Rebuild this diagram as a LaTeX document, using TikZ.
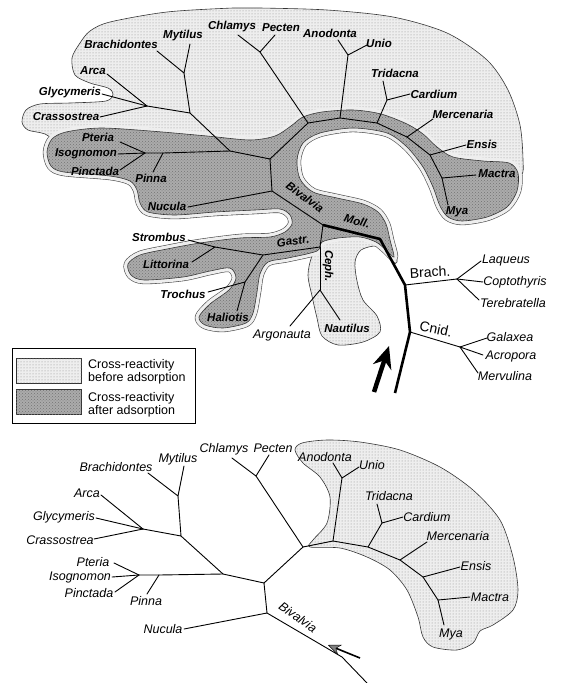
\documentclass[tikz,border=0pt]{standalone}
\usepackage{fontspec}
\setmainfont{Liberation Sans}
\usetikzlibrary{arrows.meta,patterns}
\definecolor{lightreg}{HTML}{EEEEEE}
\definecolor{darkreg}{HTML}{ABABAB}

% outlines of the shaded regions (pixel grid, y downwards)
\newcommand{\beforepath}{plot[smooth cycle, tension=0.5] coordinates {
  (80,43) (90,31) (110,22) (167,12) (233,8) (260,8) (327,10) (393,17) (447,33) (487,60)
  (508,90) (520,125) (523,160) (521,175) (500,172) (470,172) (440,160) (410,136) (380,122)
  (340,120) (295,133) (265,150) (150,151) (70,146) (45,134) (28,130) (22,122) (26,110)
  (40,104) (70,103) (106,101) (113,94) (108,88) (90,83) (75,75) (72,58)}}
\newcommand{\afterpath}{plot[smooth cycle, tension=0.5] coordinates {
  (47,152) (52,139) (66,132) (100,128) (150,131) (207,136) (250,140) (275,136) (291,126)
  (303,117) (322,112) (353,110) (381,114) (407,124) (423,134) (437,147) (453,157) (483,161)
  (509,163) (518,173) (517,191) (507,207) (487,217) (462,221) (448,217) (440,206) (433,187)
  (423,167) (407,147) (387,133) (353,128) (320,133) (303,143) (297,160) (300,179) (313,192)
  (337,198) (363,204) (378,212) (386,224) (390,240) (394,257) (386,250) (376,242) (360,237)
  (338,238) (322,242) (317,251) (288,258) (268,262) (260,274) (257,292) (253,313) (246,323)
  (223,328) (205,325) (199,317) (210,304) (229,290) (236,278) (230,268) (210,271) (183,277)
  (144,280) (131,275) (128,264) (140,255) (167,249) (200,243) (240,238) (270,237) (285,232)
  (292,224) (290,215) (280,209) (255,210) (215,212) (175,215) (148,212) (140,203) (137,190)
  (130,181) (110,176) (64,172) (51,166)}}
\newcommand{\cephpath}{plot[smooth cycle, tension=0.5] coordinates {
  (322,240) (312,256) (308,275) (312,296) (317,318) (322,336) (338,345) (363,342) (380,332)
  (377,316) (363,300) (357,281) (355,262) (361,250) (376,246) (387,252) (393,262) (397,262)
  (394,245) (375,236) (340,232)}}
\newcommand{\bottompath}{plot[smooth cycle, tension=0.5] coordinates {
  (302,443) (327,440) (360,442) (400,450) (440,467) (473,490) (500,520) (513,557) (518,590)
  (513,610) (493,625) (480,631) (473,643) (457,650) (433,647) (423,637) (418,617) (407,590)
  (390,570) (367,557) (340,548) (310,547) (313,540) (327,523) (330,497) (320,477) (303,463)
  (295,450)}}

\begin{document}
\begin{tikzpicture}[
  x=1pt, y=-1pt,
  branch/.style={line width=0.9pt, line cap=round, line join=round},
  trunk/.style={line width=2.6pt, line join=round},
  taxon/.style={font=\fontsize{11.5}{12}\selectfont\bfseries\itshape, inner sep=0pt},
  taxonlt/.style={font=\fontsize{12.5}{13}\selectfont\itshape, inner sep=0pt},
  phylum/.style={font=\fontsize{14}{15}\selectfont, inner sep=0pt},
  legtext/.style={font=\fontsize{12.5}{13}\selectfont, align=left, inner sep=0pt, anchor=west},
  beforeads/.style={fill=lightreg, postaction={pattern=dots, pattern color=black!45}},
  afterads/.style={fill=darkreg, postaction={pattern=crosshatch dots, pattern color=black!55}},
  edge/.style={draw=black!80, line width=0.6pt},
  halo/.style={line width=8.4pt, draw=black!70, line join=round},
  halofill/.style={line width=7.2pt, draw=lightreg, line join=round},
  >=Stealth
]
\useasboundingbox (0,0) rectangle (560,683);

% shaded regions
\draw[halo] \afterpath;
\draw[beforeads, edge] \beforepath;
\draw[beforeads, edge] \cephpath;
\draw[halofill] \afterpath;
\draw[afterads, edge] \afterpath;
\draw[beforeads, edge] \bottompath;

% upper tree: inner nodes
\coordinate (tBM) at (184,73);
\coordinate (tAGC) at (147,106);
\coordinate (tM1) at (190,113);
\coordinate (tPIP) at (145,153);
\coordinate (tPinJ) at (163,153);
\coordinate (tM2) at (230,151);
\coordinate (tRoot) at (270,159);
\coordinate (tCP) at (260,52);
\coordinate (tA0) at (308,123);
\coordinate (tAUj) at (340,118);
\coordinate (tAU) at (348,55);
\coordinate (tTCj) at (377,123);
\coordinate (tTC) at (387,100);
\coordinate (tMej) at (407,137);
\coordinate (tEnj) at (430,155);
\coordinate (tMaj) at (442,178);
\coordinate (tBiv) at (272,191);
\coordinate (tMoll) at (323,225);
\coordinate (tGC) at (320,247);
\coordinate (tGaJ) at (263,255);
\coordinate (tSL) at (215,247);
\coordinate (tTH) at (245,282);
\coordinate (tCeph) at (320,290);
\coordinate (kMo) at (380,239);
\coordinate (kBr) at (405,285);
\coordinate (kCn) at (410,332);
\coordinate (kEnd) at (395,393);
\coordinate (tBr) at (457,279);
\coordinate (tCn) at (460,347);

% upper tree: tips
\coordinate (pBrachT) at (157,51);
\coordinate (pMytT) at (190,44);
\coordinate (pChlT) at (238,35);
\coordinate (pPecT) at (275,35);
\coordinate (pAnoT) at (338,40);
\coordinate (pUnioT) at (367,45);
\coordinate (pTriT) at (383,81);
\coordinate (pCarT) at (410,94);
\coordinate (pMerT) at (433,119);
\coordinate (pEnsT) at (466,145);
\coordinate (pMacT) at (476,175);
\coordinate (pMyaT) at (448,205);
\coordinate (pArcaT) at (107,74);
\coordinate (pGlyT) at (102,94);
\coordinate (pCraT) at (100,117);
\coordinate (pPteT) at (120,142);
\coordinate (pIsoT) at (118,154);
\coordinate (pPinctT) at (120,170);
\coordinate (pPinnaT) at (153,172);
\coordinate (pNucT) at (188,207);
\coordinate (pStrT) at (188,240);
\coordinate (pLitT) at (192,262);
\coordinate (pTroT) at (208,292);
\coordinate (pHalT) at (237,311);
\coordinate (pArgT) at (290,326);
\coordinate (pNauT) at (340,320);
\coordinate (pLaqT) at (481,261);
\coordinate (pCopT) at (483,282);
\coordinate (pTerT) at (479,300);
\coordinate (pGalT) at (487,338);
\coordinate (pAcrT) at (483,355);
\coordinate (pMervT) at (478,373);

\draw[branch] (pBrachT) -- (tBM) -- (pMytT);
\draw[branch] (tBM) -- (tM1) -- (tAGC);
\draw[branch] (pArcaT) -- (tAGC);
\draw[branch] (pGlyT) -- (tAGC);
\draw[branch] (pCraT) -- (tAGC);
\draw[branch] (tM1) -- (tM2);
\draw[branch] (pPteT) -- (tPIP);
\draw[branch] (pIsoT) -- (tPIP);
\draw[branch] (pPinctT) -- (tPIP);
\draw[branch] (tPIP) -- (tPinJ) -- (tM2) -- (tRoot);
\draw[branch] (tPinJ) -- (pPinnaT);
\draw[branch] (pChlT) -- (tCP) -- (pPecT);
\draw[branch] (tCP) -- (tA0);
\draw[branch] (tRoot) -- (tA0) -- (tAUj) -- (tTCj) -- (tMej) -- (tEnj) -- (tMaj) -- (pMyaT);
\draw[branch] (tAUj) -- (tAU);
\draw[branch] (pAnoT) -- (tAU) -- (pUnioT);
\draw[branch] (tTCj) -- (tTC);
\draw[branch] (pTriT) -- (tTC) -- (pCarT);
\draw[branch] (tMej) -- (pMerT);
\draw[branch] (tEnj) -- (pEnsT);
\draw[branch] (tMaj) -- (pMacT);
\draw[branch] (tRoot) -- (tBiv) -- (tMoll);
\draw[branch] (tBiv) -- (pNucT);
\draw[branch] (tMoll) -- (tGC) -- (tGaJ) -- (tSL);
\draw[branch] (pStrT) -- (tSL) -- (pLitT);
\draw[branch] (tGaJ) -- (tTH);
\draw[branch] (pTroT) -- (tTH) -- (pHalT);
\draw[branch] (tGC) -- (tCeph);
\draw[branch] (pArgT) -- (tCeph) -- (pNauT);
\draw[trunk] (tMoll) -- (kMo) -- (kBr) -- (kCn) -- (kEnd);
\draw[branch] (kBr) -- (tBr);
\draw[branch] (pLaqT) -- (tBr);
\draw[branch] (pCopT) -- (tBr);
\draw[branch] (pTerT) -- (tBr);
\draw[branch] (kCn) -- (tCn);
\draw[branch] (pGalT) -- (tCn);
\draw[branch] (pAcrT) -- (tCn);
\draw[branch] (pMervT) -- (tCn);

% big arrow
\coordinate (arTailT) at (374,392);
\coordinate (arHeadT) at (389,346);
\draw[line width=4.5pt, -{Stealth[length=22pt, width=19pt, inset=7pt]}] (arTailT) -- (arHeadT);

% upper tree: labels
\node[taxon] (nBrachT) at (121,44) {Brachidontes};
\node[taxon] (nMytT) at (183,36) {Mytilus};
\node[taxon] (nChlT) at (232,27) {Chlamys};
\node[taxon] (nPecT) at (281,28) {Pecten};
\node[taxon] (nAnoT) at (330,33) {Anodonta};
\node[taxon] (nUnioT) at (379,43) {Unio};
\node[taxon] (nTriT) at (395,73) {Tridacna};
\node[taxon] (nCarT) at (434,94) {Cardium};
\node[taxon] (nMerT) at (463,114) {Mercenaria};
\node[taxon] (nEnsT) at (482,144) {Ensis};
\node[taxon] (nMacT) at (497,174) {Mactra};
\node[taxon] (nMyaT) at (457,212) {Mya};
\node[taxon] (nArcaT) at (93,71) {Arca};
\node[taxon] (nGlyT) at (70,93) {Glycymeris};
\node[taxon] (nCraT) at (66,117) {Crassostrea};
\node[taxon] (nPteT) at (98,137) {Pteria};
\node[taxon] (nIsoT) at (86,154) {Isognomon};
\node[taxon] (nPinctT) at (95,171) {Pinctada};
\node[taxon] (nPinnaT) at (151,178) {Pinna};
\node[taxon] (nNucT) at (167,206) {Nucula};
\node[taxon] (nStrT) at (159,237) {Strombus};
\node[taxon] (nLitT) at (166,264) {Littorina};
\node[taxon] (nTroT) at (183,294) {Trochus};
\node[taxon] (nHalT) at (228,317) {Haliotis};
\node[taxonlt] (nArgT) at (282,335) {Argonauta};
\node[taxon] (nNauT) at (347,328) {Nautilus};
\node[taxonlt] (nLaqT) at (506,260) {Laqueus};
\node[taxonlt] (nCopT) at (515,282) {Coptothyris};
\node[taxonlt] (nTerT) at (513,303) {Terebratella};
\node[taxonlt] (nGalT) at (510,337) {Galaxea};
\node[taxonlt] (nAcrT) at (511,356) {Acropora};
\node[taxonlt] (nMervT) at (505,376) {Mervulina};
\node[taxon, rotate=-36] (nBivT) at (305,197) {Bivalvia};
\node[taxon, rotate=-15] (nMollT) at (357,221) {Moll.};
\node[taxon, rotate=8] (nGastrT) at (293,241) {Gastr.};
\node[taxon, rotate=-90] (nCephT) at (328,266) {Ceph.};
\node[phylum, rotate=3] (nBrach) at (430,272) {Brach.};
\node[phylum, rotate=-12] (nCnid) at (436,329) {Cnid.};

% legend
\node[draw, line width=0.6pt, minimum width=183pt, minimum height=75pt, anchor=north west, inner sep=0pt] (legend) at (12,348) {};
\node[beforeads, edge, minimum width=65pt, minimum height=25pt, anchor=north west, inner sep=0pt] (swBefore) at (16,358) {};
\node[afterads, edge, minimum width=65pt, minimum height=25pt, anchor=north west, inner sep=0pt] (swAfter) at (16,389) {};
\node[legtext] (txBefore) at (88,372) {Cross-reactivity\\before adsorption};
\node[legtext] (txAfter) at (88,405) {Cross-reactivity\\after adsorption};

% lower tree: inner nodes
\coordinate (bBM) at (178,496);
\coordinate (bAGC) at (143,529);
\coordinate (bM1) at (181,536);
\coordinate (bPIP) at (139,575);
\coordinate (bPinJ) at (159,575);
\coordinate (bM2) at (223,574);
\coordinate (bRoot) at (264,583);
\coordinate (bCP) at (256,476);
\coordinate (bA0) at (303,547);
\coordinate (bAUj) at (333,541);
\coordinate (bAU) at (342,478);
\coordinate (bTCj) at (368,547);
\coordinate (bTC) at (382,523);
\coordinate (bMej) at (400,560);
\coordinate (bEnj) at (423,577);
\coordinate (bMaj) at (438,600);
\coordinate (bBiv) at (267,613);
\coordinate (bBase) at (342,657);
\coordinate (bEnd) at (367,683);

% lower tree: tips
\coordinate (pBrachB) at (148,473);
\coordinate (pMytB) at (184,466);
\coordinate (pChlB) at (232,458);
\coordinate (pPecB) at (269,455);
\coordinate (pAnoB) at (333,463);
\coordinate (pUnioB) at (359,467);
\coordinate (pTriB) at (377,504);
\coordinate (pCarB) at (403,517);
\coordinate (pMerB) at (427,542);
\coordinate (pEnsB) at (460,567);
\coordinate (pMacB) at (470,597);
\coordinate (pMyaB) at (444,625);
\coordinate (pArcaB) at (101,495);
\coordinate (pGlyB) at (96,518);
\coordinate (pCraB) at (94,539);
\coordinate (pPteB) at (114,563);
\coordinate (pIsoB) at (112,577);
\coordinate (pPinctB) at (115,592);
\coordinate (pPinnaB) at (147,594);
\coordinate (pNucB) at (184,629);

\draw[branch] (pBrachB) -- (bBM) -- (pMytB);
\draw[branch] (bBM) -- (bM1) -- (bAGC);
\draw[branch] (pArcaB) -- (bAGC);
\draw[branch] (pGlyB) -- (bAGC);
\draw[branch] (pCraB) -- (bAGC);
\draw[branch] (bM1) -- (bM2);
\draw[branch] (pPteB) -- (bPIP);
\draw[branch] (pIsoB) -- (bPIP);
\draw[branch] (pPinctB) -- (bPIP);
\draw[branch] (bPIP) -- (bPinJ) -- (bM2) -- (bRoot);
\draw[branch] (bPinJ) -- (pPinnaB);
\draw[branch] (pChlB) -- (bCP) -- (pPecB);
\draw[branch] (bCP) -- (bA0);
\draw[branch] (bRoot) -- (bA0) -- (bAUj) -- (bTCj) -- (bMej) -- (bEnj) -- (bMaj) -- (pMyaB);
\draw[branch] (bAUj) -- (bAU);
\draw[branch] (pAnoB) -- (bAU) -- (pUnioB);
\draw[branch] (bTCj) -- (bTC);
\draw[branch] (pTriB) -- (bTC) -- (pCarB);
\draw[branch] (bMej) -- (pMerB);
\draw[branch] (bEnj) -- (pEnsB);
\draw[branch] (bMaj) -- (pMacB);
\draw[branch] (bRoot) -- (bBiv) -- (bBase) -- (bEnd);
\draw[branch] (bBiv) -- (pNucB);

% small arrow
\coordinate (arTailB) at (360,658);
\coordinate (arHeadB) at (328,645);
\draw[line width=1.6pt, -{Stealth[length=13pt, width=11pt, line width=0.4pt, fill=black!50]}] (arTailB) -- (arHeadB);

% lower tree: labels
\node[taxonlt] (nBrachB) at (116,467) {Brachidontes};
\node[taxonlt] (nMytB) at (178,459) {Mytilus};
\node[taxonlt] (nChlB) at (224,449) {Chlamys};
\node[taxonlt] (nPecB) at (273,448) {Pecten};
\node[taxonlt] (nAnoB) at (325,457) {Anodonta};
\node[taxonlt] (nUnioB) at (372,465) {Unio};
\node[taxonlt] (nTriB) at (389,496) {Tridacna};
\node[taxonlt] (nCarB) at (427,517) {Cardium};
\node[taxonlt] (nMerB) at (458,536) {Mercenaria};
\node[taxonlt] (nEnsB) at (476,566) {Ensis};
\node[taxonlt] (nMacB) at (490,597) {Mactra};
\node[taxonlt] (nMyaB) at (451,634) {Mya};
\node[taxonlt] (nArcaB) at (87,493) {Arca};
\node[taxonlt] (nGlyB) at (64,517) {Glycymeris};
\node[taxonlt] (nCraB) at (60,540) {Crassostrea};
\node[taxonlt] (nPteB) at (93,562) {Pteria};
\node[taxonlt] (nIsoB) at (80,577) {Isognomon};
\node[taxonlt] (nPinctB) at (89,593) {Pinctada};
\node[taxonlt] (nPinnaB) at (146,601) {Pinna};
\node[taxonlt] (nNucB) at (163,629) {Nucula};
\node[taxonlt, rotate=-35] (nBivB) at (298,617) {Bivalvia};

\end{tikzpicture}
\end{document}
